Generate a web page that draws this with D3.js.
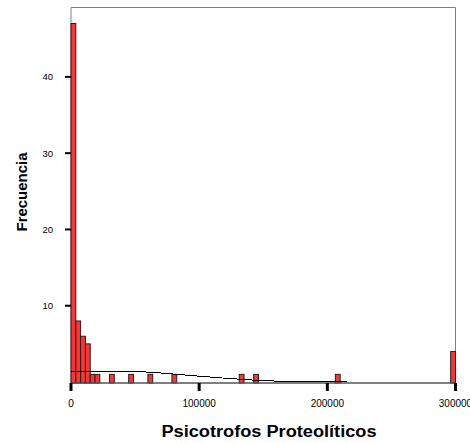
<!DOCTYPE html>
<html>
<head>
<meta charset="utf-8">
<script src="https://cdn.jsdelivr.net/npm/d3@7"></script>
<style>
  body { margin: 0; background: #fff; }
  text { font-family: "Liberation Sans", Arial, sans-serif; }
</style>
</head>
<body>
<div id="chart"></div>
<script>
/***********************************************************************/
//histogram data: lower edge of each non-empty bin and its count
const binWidth = 3750;
const binStarts = [0, 3750, 7500, 11250, 15000, 18750, 30000, 45000, 60000, 78750, 131250, 142500, 206250, 296250];
const binCounts = [47, 8, 6, 5, 1, 1, 1, 1, 1, 1, 1, 1, 1, 4];

//normal curve (value, frequency)
const curveX = [0, 20000, 40000, 60000, 75000, 90000, 105000, 120000, 135000, 150000, 165000, 180000, 200000, 215000];
const curveY = [1.38, 1.42, 1.40, 1.30, 1.12, 0.90, 0.70, 0.50, 0.33, 0.18, 0.10, 0.05, 0.02, 0];

const xTicks = [0, 100000, 200000, 300000];
const yTicks = [10, 20, 30, 40];

//set static svg/chart variables
var svgWidth = 470;
var svgHeight = 443;

var svg = d3.select('#chart')
  .append('svg')
  .attr('width', svgWidth)
  .attr('height', svgHeight);

var xScale = d3.scaleLinear()
  .domain([0, 300000])
  .range([71, 455.5]);

var yScale = d3.scaleLinear()
  .domain([0, 47])
  .range([382, 23.5]);

/***********************************************************************/
//frame
svg.append('path')
  .attr('d', 'M71,383V7.5H455.5V383')
  .attr('fill', 'none')
  .attr('stroke', '#808080')
  .attr('stroke-width', 1);

//bars
svg.selectAll('rect.bar')
  .data(binStarts.map((s, i) => ({start: s, count: binCounts[i]})))
  .enter()
  .append('rect')
  .attr('class', 'bar')
  .attr('x', d => xScale(d.start))
  .attr('y', d => yScale(d.count))
  .attr('width', d => xScale(d.start + binWidth) - xScale(d.start))
  .attr('height', d => 383 - yScale(d.count))
  .attr('fill', '#f33')
  .attr('stroke', '#222')
  .attr('stroke-width', 1);

//normal curve
var curveLine = d3.line()
  .x(d => xScale(d[0]))
  .y(d => yScale(d[1]))
  .curve(d3.curveMonotoneX);

svg.append('path')
  .datum(curveX.map((v, i) => [v, curveY[i]]))
  .attr('d', curveLine)
  .attr('fill', 'none')
  .attr('stroke', '#000')
  .attr('stroke-width', 1)
  .attr('shape-rendering', 'crispEdges');

//x axis line
svg.append('line')
  .attr('x1', 71).attr('x2', 455.5)
  .attr('y1', 383).attr('y2', 383)
  .attr('stroke', '#555')
  .attr('stroke-width', 1.5);

/***********************************************************************/
//x ticks and labels
svg.selectAll('rect.xtick')
  .data(xTicks)
  .enter()
  .append('rect')
  .attr('class', 'xtick')
  .attr('x', d => xScale(d) - 1.5)
  .attr('y', 383)
  .attr('width', 3)
  .attr('height', 8)
  .attr('fill', '#000');

svg.selectAll('text.xlabel')
  .data(xTicks)
  .enter()
  .append('text')
  .attr('class', 'xlabel')
  .attr('x', d => xScale(d))
  .attr('y', 407)
  .attr('text-anchor', 'middle')
  .attr('font-size', '10px')
  .text(d => d);

//y ticks and labels
svg.selectAll('rect.ytick')
  .data(yTicks)
  .enter()
  .append('rect')
  .attr('class', 'ytick')
  .attr('x', 65)
  .attr('y', d => yScale(d) - 1)
  .attr('width', 6)
  .attr('height', 2)
  .attr('fill', '#000');

svg.selectAll('text.ylabel')
  .data(yTicks)
  .enter()
  .append('text')
  .attr('class', 'ylabel')
  .attr('x', 53)
  .attr('y', d => yScale(d) + 3.5)
  .attr('text-anchor', 'end')
  .attr('font-size', '9.5px')
  .text(d => d);

//axis titles
svg.append('text')
  .attr('x', 269)
  .attr('y', 437)
  .attr('text-anchor', 'middle')
  .attr('font-size', '16px')
  .attr('font-weight', 'bold')
  .attr('textLength', 215)
  .attr('lengthAdjust', 'spacingAndGlyphs')
  .text('Psicotrofos Proteolíticos');

svg.append('text')
  .attr('transform', 'translate(27, 192) rotate(-90)')
  .attr('text-anchor', 'middle')
  .attr('font-size', '15px')
  .attr('font-weight', 'bold')
  .attr('textLength', 79)
  .attr('lengthAdjust', 'spacingAndGlyphs')
  .text('Frecuencia');
</script>
</body>
</html>
